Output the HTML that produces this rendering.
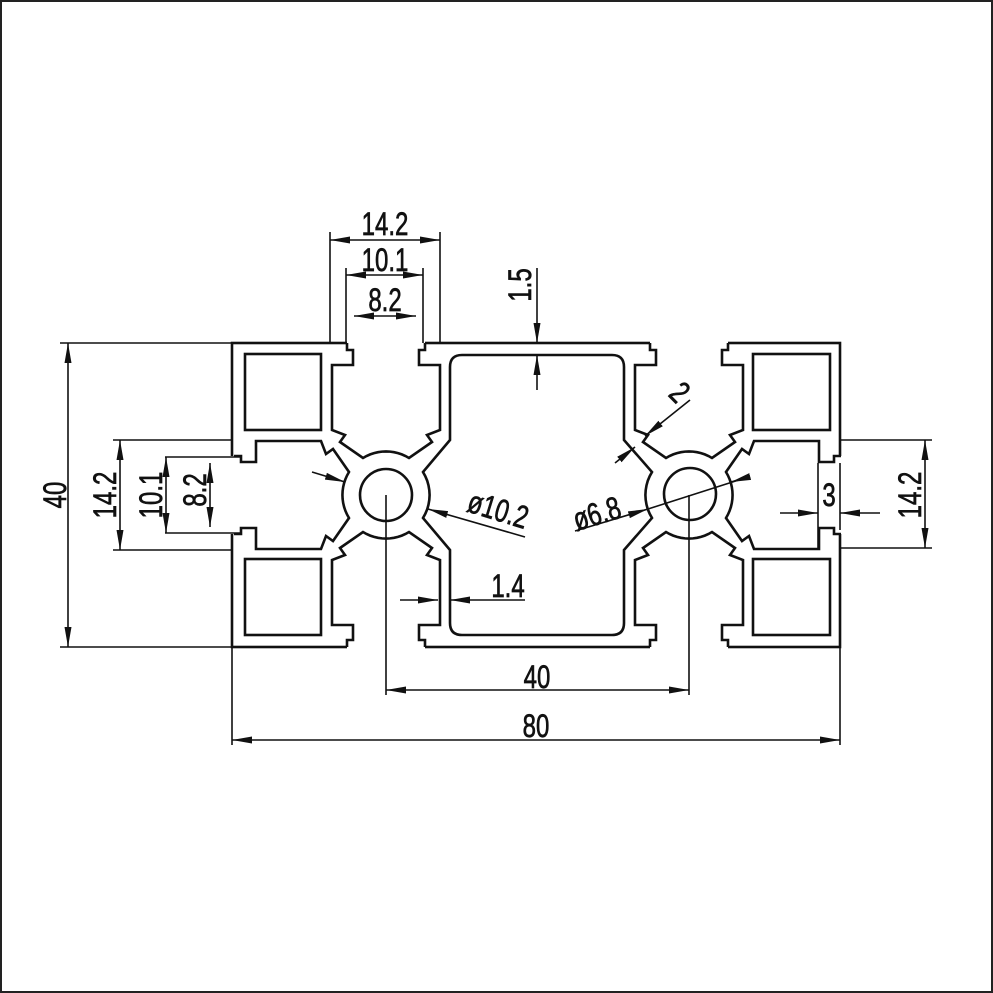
<!DOCTYPE html>
<html><head><meta charset="utf-8"><style>
html,body{margin:0;padding:0;background:#fff;}
svg{display:block;}
text{font-family:"Liberation Sans",sans-serif;font-size:32px;fill:#111;stroke:#111;stroke-width:0.7;}
</style></head><body>
<svg id="s" width="993" height="993" viewBox="0 0 993 993" xmlns="http://www.w3.org/2000/svg">
<defs>
<marker id="a" viewBox="0 0 20 8" refX="20" refY="4" markerWidth="20" markerHeight="8" markerUnits="userSpaceOnUse" orient="auto-start-reverse"><path d="M0,0.5 L20,4 L0,7.5 Z" fill="#111"/></marker>
</defs>
<rect x="1" y="1" width="991" height="991" fill="#fff" stroke="#222" stroke-width="2"/>
<g id="prof" fill="none" stroke="#111" stroke-width="2.6" stroke-linejoin="miter"></g>
<g fill="none" stroke="#111" stroke-width="1.6">
<line x1="330" y1="232" x2="330" y2="343"/><line x1="440" y1="232" x2="440" y2="343"/>
<line x1="346" y1="268" x2="346" y2="343"/><line x1="423" y1="268" x2="423" y2="343"/>
<line x1="60" y1="343" x2="232" y2="343"/><line x1="60" y1="647" x2="232" y2="647"/>
<line x1="113" y1="440" x2="232" y2="440"/><line x1="113" y1="550" x2="232" y2="550"/>
<line x1="165" y1="457" x2="240" y2="457"/><line x1="165" y1="533" x2="240" y2="533"/>
<line x1="840" y1="440" x2="932" y2="440"/><line x1="840" y1="548" x2="932" y2="548"/>
<line x1="818" y1="463" x2="818" y2="548"/><line x1="840" y1="463" x2="840" y2="530"/>
<line x1="232" y1="647" x2="232" y2="745"/><line x1="840" y1="647" x2="840" y2="745"/>
<line x1="386" y1="495" x2="386" y2="695"/><line x1="689" y1="495" x2="689" y2="695"/>
<line x1="330" y1="240" x2="440" y2="240" marker-start="url(#a)" marker-end="url(#a)"/>
<line x1="346" y1="275" x2="423" y2="275" marker-start="url(#a)" marker-end="url(#a)"/>
<line x1="354" y1="316" x2="416" y2="316" marker-start="url(#a)" marker-end="url(#a)"/>
<line x1="537" y1="268" x2="537" y2="343" marker-end="url(#a)"/>
<line x1="537" y1="390" x2="537" y2="355" marker-end="url(#a)"/>
<line x1="68" y1="343" x2="68" y2="647" marker-start="url(#a)" marker-end="url(#a)"/>
<line x1="120" y1="440" x2="120" y2="550" marker-start="url(#a)" marker-end="url(#a)"/>
<line x1="166" y1="457" x2="166" y2="533" marker-start="url(#a)" marker-end="url(#a)"/>
<line x1="210" y1="463" x2="210" y2="527" marker-start="url(#a)" marker-end="url(#a)"/>
<line x1="925" y1="440" x2="925" y2="548" marker-start="url(#a)" marker-end="url(#a)"/>
<line x1="386" y1="690" x2="689" y2="690" marker-start="url(#a)" marker-end="url(#a)"/>
<line x1="232" y1="740" x2="840" y2="740" marker-start="url(#a)" marker-end="url(#a)"/>
<line x1="400" y1="600" x2="438" y2="600" marker-end="url(#a)"/>
<line x1="525" y1="600" x2="450" y2="600" marker-end="url(#a)"/>
<line x1="780" y1="513" x2="818" y2="513" marker-end="url(#a)"/>
<line x1="880" y1="513" x2="840" y2="513" marker-end="url(#a)"/>
<line x1="312" y1="472" x2="345" y2="482" marker-end="url(#a)"/>
<line x1="525" y1="537" x2="428" y2="509" marker-end="url(#a)"/>
<line x1="575" y1="531" x2="648" y2="509" marker-end="url(#a)"/>
<line x1="648" y1="509" x2="745" y2="478"/>
<line x1="745" y1="478" x2="731" y2="482" marker-end="url(#a)"/>
<line x1="690" y1="400" x2="645" y2="436" marker-end="url(#a)"/>
<line x1="615" y1="463" x2="635" y2="447" marker-end="url(#a)"/>
</g>
<text x="385" y="235" text-anchor="middle" transform="translate(385 0) scale(0.75 1) translate(-385 0)">14.2</text>
<text x="385" y="271" text-anchor="middle" transform="translate(385 0) scale(0.75 1) translate(-385 0)">10.1</text>
<text x="385" y="311" text-anchor="middle" transform="translate(385 0) scale(0.75 1) translate(-385 0)">8.2</text>
<text transform="translate(531 285) rotate(-90) scale(0.75 1)" text-anchor="middle">1.5</text>
<text transform="translate(66 495) rotate(-90) scale(0.75 1)" text-anchor="middle">40</text>
<text transform="translate(116 495) rotate(-90) scale(0.75 1)" text-anchor="middle">14.2</text>
<text transform="translate(162 495) rotate(-90) scale(0.75 1)" text-anchor="middle">10.1</text>
<text transform="translate(206 490) rotate(-90) scale(0.75 1)" text-anchor="middle">8.2</text>
<text transform="translate(921 495) rotate(-90) scale(0.75 1)" text-anchor="middle">14.2</text>
<text transform="translate(495 520) rotate(17) scale(0.75 1)" text-anchor="middle">ø10.2</text>
<text transform="translate(600 524) rotate(-17) scale(0.75 1)" text-anchor="middle">ø6.8</text>
<text transform="translate(672 400) rotate(45) scale(0.75 1)" text-anchor="middle">2</text>
<text x="508" y="597" text-anchor="middle" transform="translate(508 0) scale(0.75 1) translate(-508 0)">1.4</text>
<text x="829" y="506" text-anchor="middle" transform="translate(829 0) scale(0.75 1) translate(-829 0)">3</text>
<text x="537" y="688" text-anchor="middle" transform="translate(537 0) scale(0.75 1) translate(-537 0)">40</text>
<text x="536" y="737" text-anchor="middle" transform="translate(536 0) scale(0.75 1) translate(-536 0)">80</text>
</svg>
<script>
(function(){
var g=document.getElementById('prof');var NS='http://www.w3.org/2000/svg';
function add(tag,attrs){var e=document.createElementNS(NS,tag);for(var k in attrs)e.setAttribute(k,attrs[k]);g.appendChild(e);return e;}
add('rect',{x:232,y:343,width:608,height:304});
var half=[[39,158],[39,152],[39,145],[33,145],[33,130],[54,130],[54,65],[41,60],[46,53],[23,37]];
function slotPts(){
  var pts=[];
  for(var i=0;i<half.length;i++){pts.push([-half[i][0],half[i][1]]);}
  var a0=Math.atan2(37,-23),a1=Math.atan2(37,23);var r=Math.hypot(23,37);
  for(var k=1;k<12;k++){var a=a0+(a1-a0)*k/12;pts.push([r*Math.cos(a),r*Math.sin(a)]);}
  for(var i=half.length-1;i>=0;i--){pts.push([half[i][0],half[i][1]]);}
  return pts;
}
function tr(cx,cy,dir,p){var u=p[0],v=p[1];
  if(dir=='up')return [cx+u,cy-v]; if(dir=='down')return [cx+u,cy+v];
  if(dir=='left')return [cx-v,cy+u]; return [cx+v,cy+u];}
function slot(cx,cy,dir){
  var pts=slotPts().map(function(p){return tr(cx,cy,dir,p);});
  var all=pts.map(function(p){return p.join(',');}).join(' ');
  add('polygon',{points:all,fill:'#fff',stroke:'none'});
  var inner=pts.slice(1,pts.length-1).map(function(p){return p.join(',');}).join(' ');
  add('polyline',{points:inner});
}
var L=[386,495],R=[689,495];
slot(L[0],L[1],'up');slot(L[0],L[1],'down');slot(L[0],L[1],'left');
slot(R[0],R[1],'up');slot(R[0],R[1],'down');slot(R[0],R[1],'right');
function arcPts(cx,cy,p0,p1,n){var r=Math.hypot(p0[0]-cx,p0[1]-cy);var a0=Math.atan2(p0[1]-cy,p0[0]-cx),a1=Math.atan2(p1[1]-cy,p1[0]-cx);
 if(a1-a0>Math.PI)a1-=2*Math.PI; if(a0-a1>Math.PI)a1+=2*Math.PI;var s='';for(var k=1;k<n;k++){var a=a0+(a1-a0)*k/n;s+=' L'+(cx+r*Math.cos(a)).toFixed(1)+' '+(cy+r*Math.sin(a)).toFixed(1);}return s;}
var d='M462 355 H612 Q624 355 624 367 V440 L652 472'+arcPts(689,495,[652,472],[652,518],10)+' L652 518 L624 550 V623 Q624 635 612 635 H462 Q450 635 450 623 V550 L423 518'+arcPts(386,495,[423,518],[423,472],10)+' L423 472 L450 440 V367 Q450 355 462 355 Z';
add('path',{d:d});
add('rect',{x:245,y:354,width:76,height:76});add('rect',{x:245,y:559,width:76,height:76});
add('rect',{x:753,y:354,width:77,height:76});add('rect',{x:753,y:559,width:77,height:76});
add('circle',{cx:386,cy:495,r:26});add('circle',{cx:690,cy:494,r:26});
})();
</script>
</body></html>
